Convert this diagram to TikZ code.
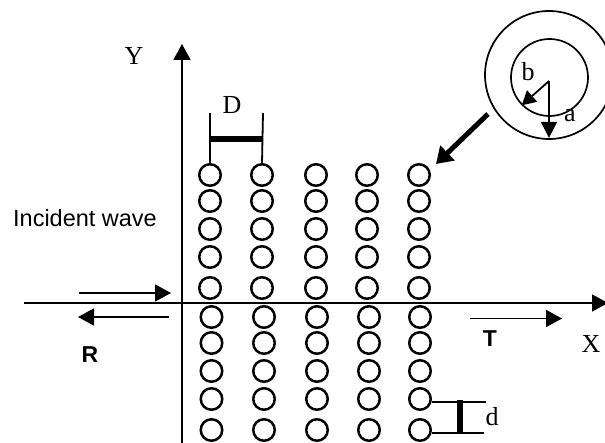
\documentclass[tikz,border=0pt]{standalone}
\usepackage{fontspec}
\setmainfont{Liberation Serif}
\newfontfamily\arialfont{Liberation Sans}
\usetikzlibrary{arrows.meta}
\tikzset{
  rod/.style={draw,circle,line width=2.5pt,inner sep=0pt,minimum size=21.5pt},
  axis/.style={line width=1.7pt,-{Triangle[length=16pt,width=17pt]}},
  wave/.style={line width=1.6pt,-{Triangle[length=16pt,width=17pt]}},
  tick/.style={line width=1.8pt},
  bar/.style={line width=5.5pt},
  serif/.style={font=\fontsize{26}{26}\selectfont},
  sans/.style={font=\arialfont\fontsize{23.5}{23.5}\selectfont},
  sansbold/.style={font=\arialfont\bfseries\fontsize{23}{23}\selectfont}
}
\begin{document}
\begin{tikzpicture}[x=1pt,y=-1pt]
\useasboundingbox (0,0) rectangle (605,443);
% axes
\coordinate (xstart) at (24,303);
\coordinate (xend) at (608,303);
\coordinate (ystart) at (182,446);
\coordinate (yend) at (182,44);
\draw [axis](xstart) -- (xend);
\draw [axis](ystart) -- (yend);
% rods
\foreach \col/\xa/\xb in {1/210/211.5,2/262/264,3/316/317,4/367/369,5/419/420}{
  \foreach \row/\ya in {1/175,2/201,3/229,4/257,5/288}
    \node [rod] (c\col\row) at (\xa,\ya) {};
  \foreach \row/\ya in {6/317,7/343,8/371,9/399,10/430}
    \node [rod] (c\col\row) at (\xb,\ya) {};
}
% spacing D
\coordinate (da) at (210,113);
\coordinate (db) at (263,113);
\coordinate (dc) at (210,139);
\coordinate (dd) at (263,139);
\draw [tick](da) -- (c11.north);
\draw [tick](db) -- (c21.north);
\draw [bar](dc) -- (dd);
\node [serif] (dlabel) at (232,105) {D};
% spacing d
\coordinate (ea) at (486,402);
\coordinate (eb) at (484,433);
\coordinate (ec) at (460,400);
\coordinate (ed) at (460,434);
\draw [tick](c59.east |- ea) -- (ea);
\draw [tick](c510.east |- eb) -- (eb);
\draw [bar](ec) -- (ed);
\node [serif] (elabel) at (492,417) {d};
% waves
\coordinate (ia) at (79,293);
\coordinate (ib) at (171,293);
\coordinate (ra) at (169,317);
\coordinate (rb) at (78,317);
\coordinate (ta) at (470,318.5);
\coordinate (tb) at (562,318.5);
\draw [wave](ia) -- (ib);
\draw [wave](ra) -- (rb);
\draw [wave](ta) -- (tb);
\node [sans] (incident) at (85,218) {Incident wave};
\node [sansbold] (rlabel) at (90,355) {R};
\node [sansbold] (tlabel) at (490,339) {T};
\node [serif] (xlabel) at (591,344) {X};
\node [serif] (ylabel) at (134,56) {Y};
% cross section
\node [draw,circle,line width=1.7pt,inner sep=0pt,minimum size=128pt] (outer) at (549,75) {};
\node [draw,circle,line width=1.7pt,inner sep=0pt,minimum size=77pt] (inner) at (549.5,77.5) {};
\coordinate (centre) at (549,81);
\draw [line width=1.6pt,shorten >=2pt,-{Triangle[length=16pt,width=16pt]}](centre) -- (outer.south);
\draw [line width=1.8pt,-{Triangle[length=14pt,width=15pt]}](centre) -- (inner.south west);
\node [serif] (alabel) at (570,116) {a};
\node [serif] (blabel) at (528,72) {b};
% pointer
\coordinate (pa) at (488,114);
\coordinate (pb) at (436,164);
\draw [line width=5pt,-{Triangle[length=16pt,width=20pt]}](pa) -- (pb);
\end{tikzpicture}
\end{document}
